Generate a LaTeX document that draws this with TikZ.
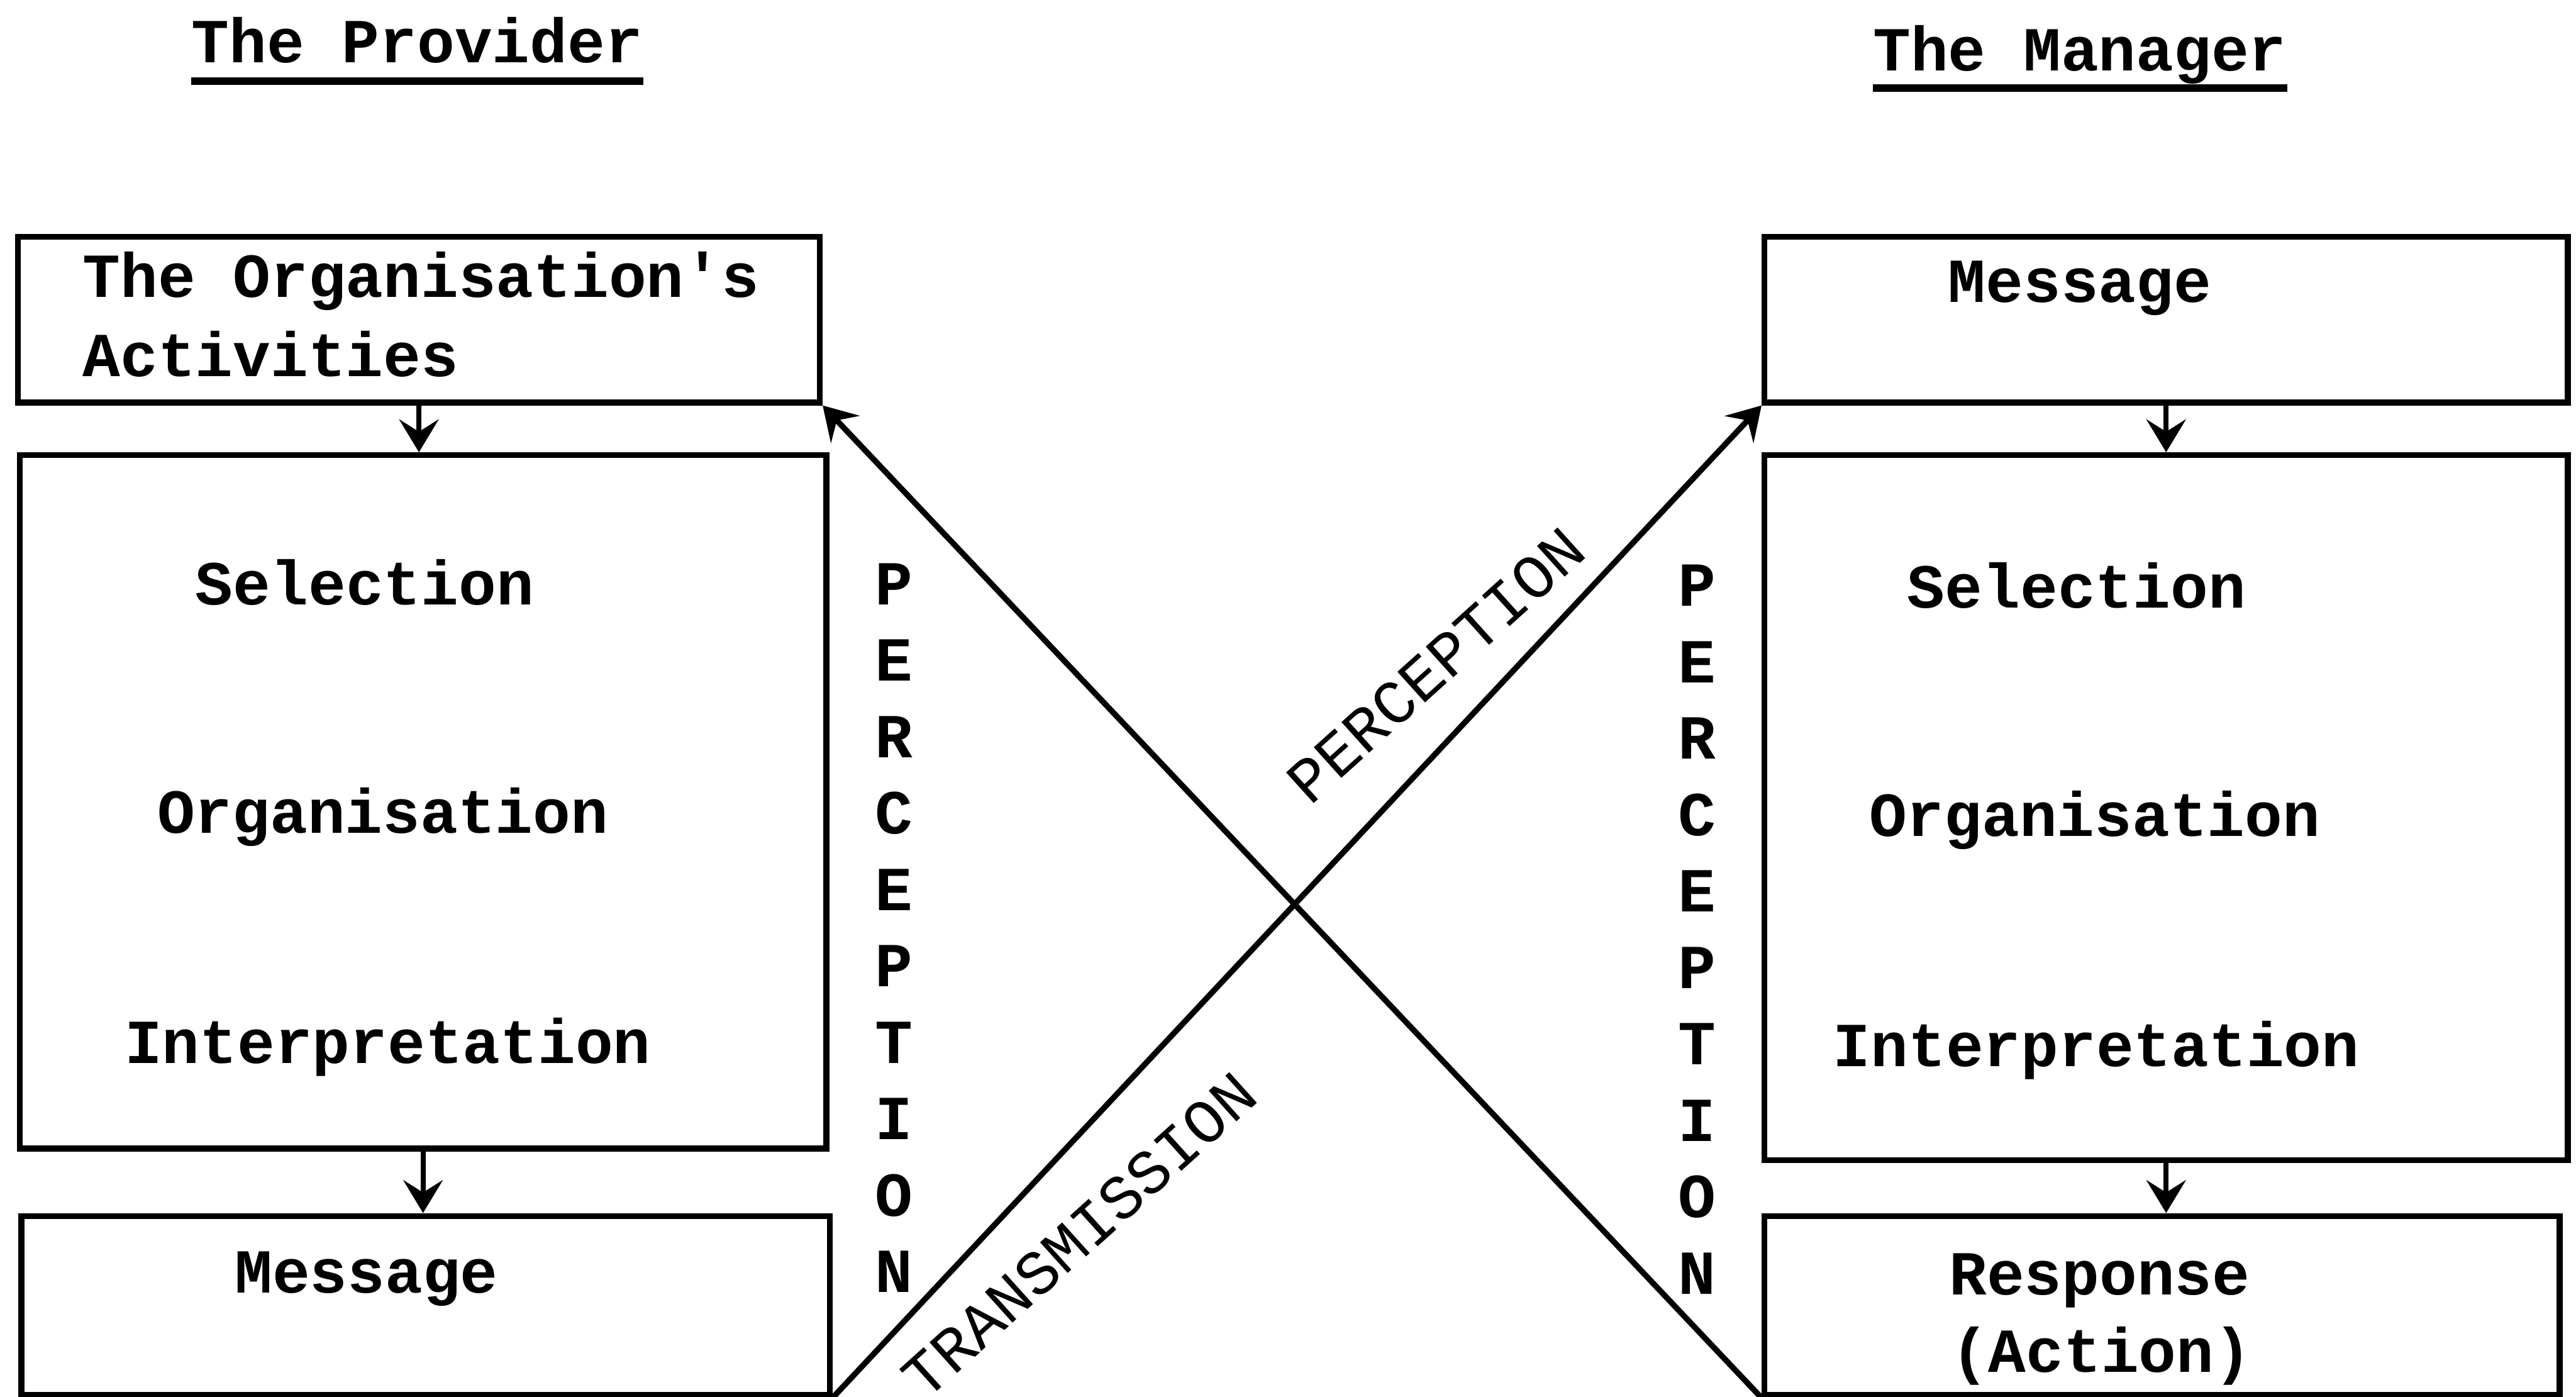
\documentclass[tikz,border=0pt]{standalone}
\usepackage{fontspec}
\setmonofont{Liberation Mono}
\usetikzlibrary{arrows.meta,fit}
\tikzstyle{plainBox} = [draw=black, line width=2pt, inner sep=0pt]
\tikzstyle{typed} = [font=\ttfamily\bfseries\fontsize{21.7}{26}\selectfont,
	inner sep=0pt, anchor=base]
\tikzstyle{slantText} = [font=\ttfamily\fontsize{21.7}{26}\selectfont,
	inner sep=0pt, rotate=42]
\begin{document}
\begin{tikzpicture}[
	x=0.02cm, y=-0.02cm,
	>={Stealth[length=4mm, width=4.8mm, inset=1.5mm]},
	flow/.style = {line width=1.7pt, ->},
	cross/.style = {line width=2pt, ->}
  ]
  \useasboundingbox (0,0) rectangle (1568,850);
  \clip (0,0) rectangle (1568,850);

  \node[typed] (provider) at (254,38) {The Provider};
  \node[typed] (manager) at (1266,43) {The Manager};
  \draw[line width=2.6pt] ([yshift=-0.23cm]provider.base west) -- ([yshift=-0.23cm]provider.base east);
  \draw[line width=2.6pt] ([yshift=-0.21cm]manager.base west) -- ([yshift=-0.21cm]manager.base east);

  % provider side
  \node[plainBox, fit={(11,144) (499,245)}] (orgAct) {};
  \node[typed, anchor=base west] (orgActA) at (50,181) {The Organisation's};
  \node[typed, anchor=base west] (orgActB) at (50,229) {Activities};
  \node[plainBox, fit={(12,277) (503,699)}] (provProc) {};
  \node[typed] (provSel) at (222,368) {Selection};
  \node[typed] (provOrg) at (233,507) {Organisation};
  \node[typed] (provInt) at (236,647) {Interpretation};
  \node[plainBox, fit={(13,740) (505,849)}] (provMsg) {};
  \node[typed] (provMsgT) at (223,787) {Message};

  % manager side
  \node[plainBox, fit={(1074,144) (1563,245)}] (mgrMsg) {};
  \node[typed] (mgrMsgT) at (1266,184) {Message};
  \node[plainBox, fit={(1074,277) (1563,706)}] (mgrProc) {};
  \node[typed] (mgrSel) at (1264,370) {Selection};
  \node[typed] (mgrOrg) at (1275,509) {Organisation};
  \node[typed] (mgrInt) at (1276,649) {Interpretation};
  \node[plainBox, fit={(1074,740) (1558,849)}] (mgrResp) {};
  \node[typed] (mgrRespA) at (1278,788) {Response};
  \node[typed] (mgrRespB) at (1279,835) {(Action)};

  \draw[flow] (orgAct.south) -- (orgAct.south |- provProc.north);
  \draw[flow] (provProc.south) -- (provProc.south |- provMsg.north);
  \draw[flow] (mgrMsg.south) -- (mgrMsg.south |- mgrProc.north);
  \draw[flow] (mgrProc.south) -- (mgrProc.south |- mgrResp.north);

  \draw[cross] (provMsg.south east) -- (mgrMsg.south west);
  \draw[cross] (mgrResp.south west) -- (orgAct.south east);
  \node[slantText] (percDiag) at (874,405) {PERCEPTION};
  \node[slantText] (transDiag) at (657,752) {TRANSMISSION};

  \foreach \ch [count=\i] in {P,E,R,C,E,P,T,I,O,N} {
  	\node[typed] (provPerc\i) at (544,{368+46.5*(\i-1)}) {\ch};
  	\node[typed] (mgrPerc\i) at (1033,{369+46.5*(\i-1)}) {\ch};
  }
\end{tikzpicture}
\end{document}
